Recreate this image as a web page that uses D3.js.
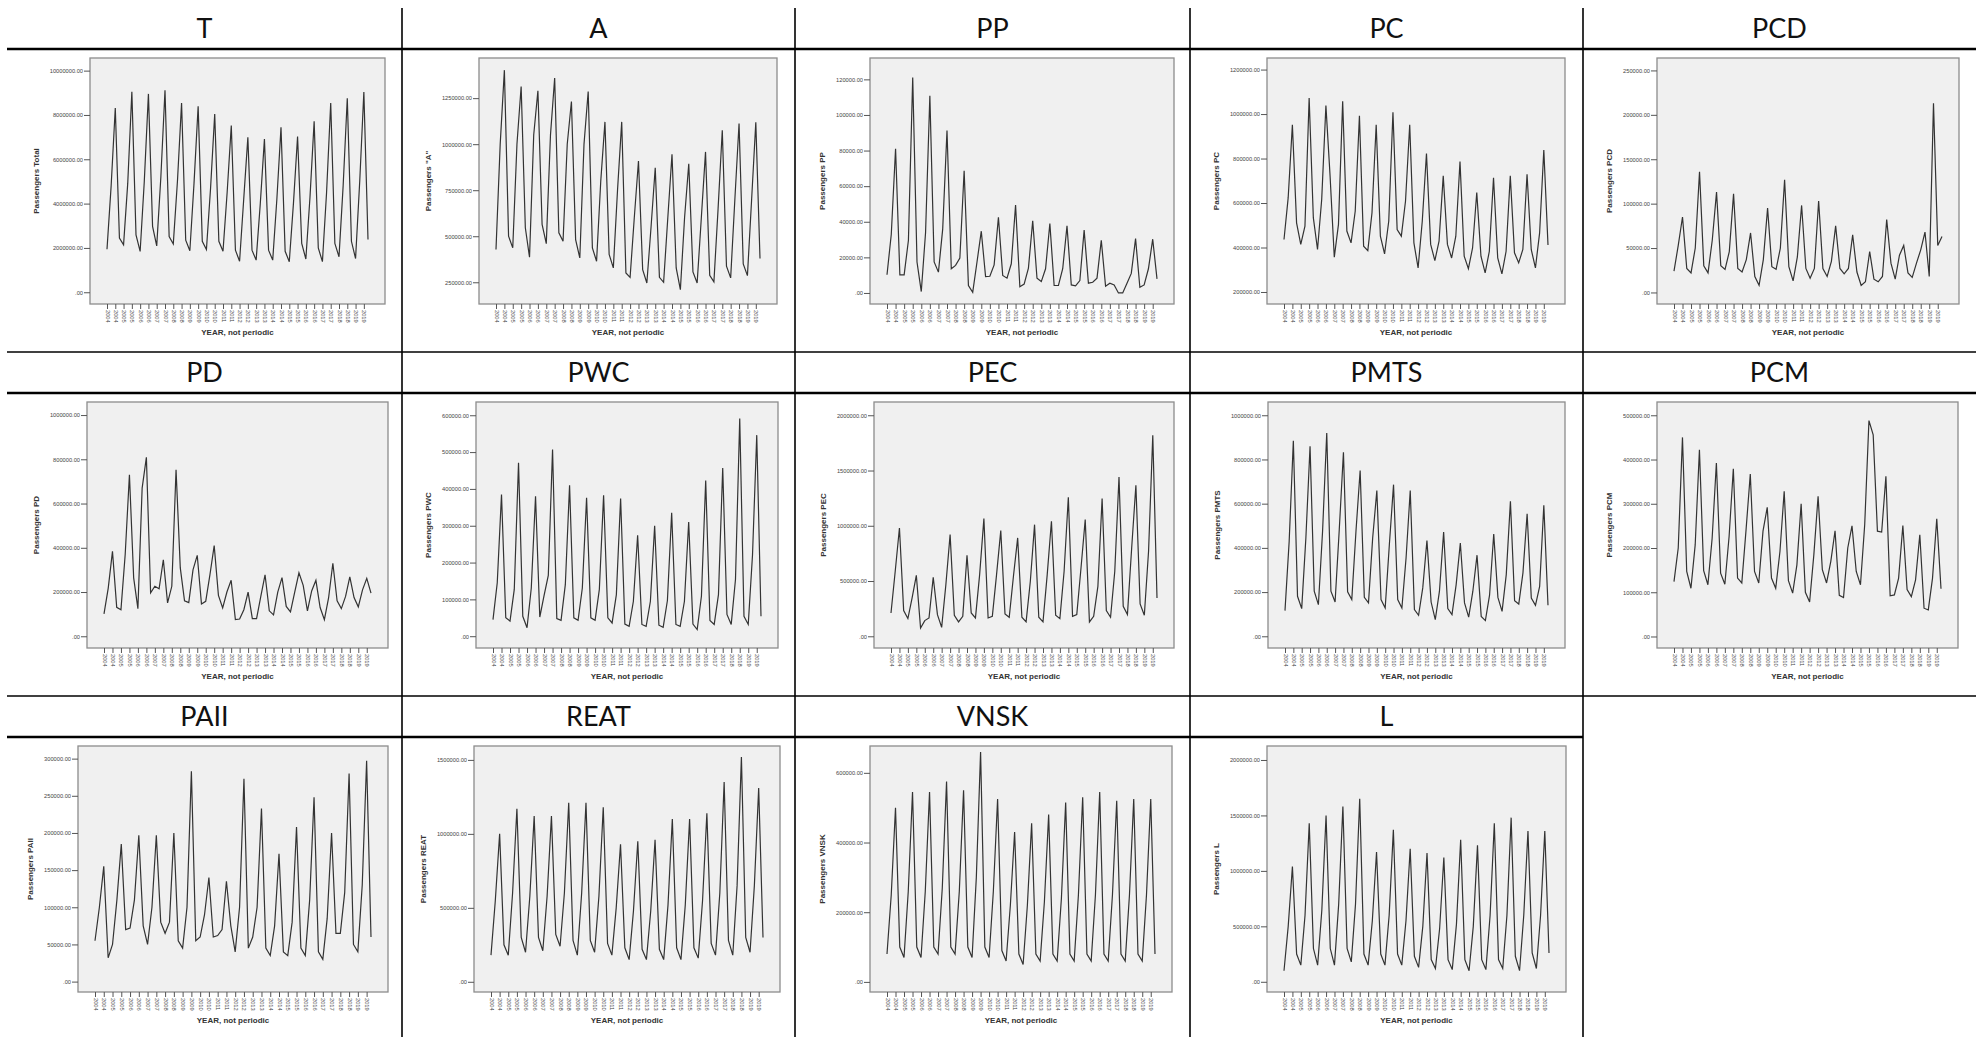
<!DOCTYPE html>
<html>
<head>
<meta charset="utf-8">
<script src="https://cdn.jsdelivr.net/npm/d3@7"></script>
<style>
  body { margin: 0; background: #fff; }
</style>
</head>
<body>
<script>
// quarterly passengers, 2004 Q1 .. 2019 Q4, values in thousands
var yearLabels = ["2004","2004","2005","2005","2006","2006","2007","2007","2008","2008","2009","2009",
  "2010","2010","2011","2011","2012","2012","2013","2013","2014","2014","2015","2015",
  "2016","2016","2017","2017","2018","2018","2019","2019"];

var T = [1940,4800,8310,2440, 2140,4900,9050,2590, 1840,5000,8950,2970, 2090,5200,9110,2510,
  2180,5000,8540,2350, 1870,4900,8390,2300, 1930,4700,8040,2300, 1850,4500,7520,1900,
  1400,4200,6990,1900, 1450,4000,6910,1900, 1450,4200,7440,1850, 1380,4000,7030,2200,
  1500,4300,7710,2000, 1380,4500,8540,2200, 1600,4800,8750,2300, 1520,5000,9040,2380];
var A = [428,1000,1402,500, 437,1000,1313,546, 386,1050,1290,564, 460,1050,1359,519,
  473,1000,1232,482, 382,1000,1286,437, 364,800,1121,401, 328,750,1121,301,
  277,600,909,319, 246,550,872,277, 250,600,945,328, 210,600,894,306,
  246,600,958,288, 252,650,1076,337, 274,700,1112,350, 286,700,1119,379];
var PP = [10.2,33,81,10.2, 10.2,29.6,121,17.4, 0.8,34,110.8,17.4, 11.7,36,91.3,13.6,
  15.5,19.6,68.7,4.2, 0.4,17.4,34.7,9.2, 9.4,15.8,42.5,9.8, 8.3,16.4,49.4,3.5,
  5,14,40.5,8.3, 6.4,13.6,39,4.2, 4.2,13.6,37.7,4.5, 4,7,35.3,5.5,
  6,8.3,29.6,3.8, 5.5,4.5,0,0, 5.5,11,30.5,3.2, 4.5,13.6,30.2,7.9];
var PC = [436,624,952,511, 414,496,1072,534, 391,617,1038,720, 356,504,1057,474,
  421,564,992,406, 386,556,952,451, 371,519,1008,481, 451,609,952,421,
  308,519,823,414, 341,429,722,414, 353,451,786,361, 305,398,647,361,
  286,383,714,353, 281,383,722,376, 331,391,729,391, 308,466,838,411];
var PCD = [24,53,85,27, 22,50,136,30, 22,59,113,30, 26,46,111,27,
  23,37,67,18, 8,37,95,29, 26,50,127,29, 13,40,98,27,
  16,27,103,27, 18,35,75,27, 21,27,65,23, 8,12,46,15,
  12,18,82,33, 15,42,53,22, 17,33,48,68, 18,213,53,63];
var PD = [101,218,384,131, 120,370,730,264, 125,670,809,196, 226,215,346,151,
  226,753,309,160, 152,300,366,146, 158,279,410,185, 128,200,253,75,
  78,120,200,80, 80,180,278,115, 97,200,265,135, 110,200,287,230,
  115,205,253,130, 75,175,330,160, 125,180,268,175, 133,210,262,195];
var PWC = [45,145,385,50, 41,127,471,54, 23,131,380,52, 110,165,507,48,
  43,140,410,50, 43,131,376,50, 43,127,383,50, 36,113,374,33,
  27,95,274,32, 27,95,300,30, 24,97,335,32, 27,95,310,33,
  18,109,423,43, 32,113,457,59, 32,154,591,54, 32,220,546,54];
var PEC = [211,588,980,232, 160,347,552,75, 142,166,534,196, 81,468,920,190,
  130,181,733,211, 166,560,1065,166, 181,558,956,202, 172,543,890,172,
  130,498,1010,172, 130,558,1041,190, 160,588,1258,181, 196,618,1056,130,
  181,452,1246,232, 172,588,1442,271, 196,799,1367,293, 190,769,1819,347];
var PMTS = [116,430,885,181, 125,445,860,204, 143,475,920,204, 155,483,833,201,
  166,475,750,176, 151,445,659,166, 128,415,686,166, 128,354,659,121,
  95,219,433,155, 75,204,472,125, 98,234,422,151, 87,204,367,90,
  71,186,463,176, 113,279,611,161, 146,287,554,173, 140,226,593,140];
var PCM = [124,200,450,147, 109,207,422,149, 117,222,392,143, 118,226,379,132,
  121,241,367,147, 121,238,292,132, 109,192,328,126, 98,162,300,100,
  78,185,317,151, 121,170,239,93, 88,200,250,147, 117,253,488,456,
  238,236,362,92, 94,132,251,106, 90,128,230,64, 60,132,266,108];
var PAII = [55,100,155,32, 50,110,185,70, 72,110,197,75, 50,100,197,80,
  65,80,200,55, 45,100,283,55, 60,90,140,60, 62,70,135,75,
  40,100,273,45, 60,100,233,45, 35,75,172,40, 35,80,208,45,
  35,110,248,40, 30,85,200,65, 65,120,280,50, 40,130,297,60];
var REAT = [180,550,1000,250, 180,600,1170,300, 200,580,1120,300, 210,580,1120,320,
  240,600,1210,280, 180,600,1210,280, 200,580,1180,260, 180,500,930,230,
  150,480,950,220, 150,480,960,220, 150,520,1100,230, 150,520,1100,230,
  160,550,1140,260, 180,600,1350,280, 180,650,1520,300, 200,650,1310,300];
var VNSK = [80,250,500,100, 70,260,545,100, 70,260,545,100, 80,270,575,100,
  80,260,550,100, 70,300,660,100, 70,260,525,90, 60,220,430,80,
  50,220,455,80, 60,230,480,80, 60,240,515,80, 60,250,530,80,
  60,250,545,80, 60,250,520,80, 60,250,525,80, 60,250,525,80];
var L = [100,500,1040,250, 150,600,1430,300, 150,650,1500,300, 150,700,1580,300,
  180,700,1650,250, 150,550,1170,250, 150,600,1370,250, 150,550,1200,230,
  130,500,1160,200, 120,480,1120,200, 110,520,1280,200, 100,500,1230,200,
  110,600,1430,200, 120,600,1480,230, 100,600,1360,260, 120,600,1360,260];

var panelNames = ["T","A","PP","PC","PCD","PD","PWC","PEC","PMTS","PCM","PAII","REAT","VNSK","L"];
var panelSeries = [T, A, PP, PC, PCD, PD, PWC, PEC, PMTS, PCM, PAII, REAT, VNSK, L];
var yTitles = ["Passengers Total", "Passengers \"A\"", "Passengers PP", "Passengers PC", "Passengers PCD",
  "Passengers PD", "Passengers PWC", "Passengers PEC", "Passengers PMTS", "Passengers PCM",
  "Passengers PAII", "Passengers REAT", "Passengers VNSK", "Passengers L"];
// axis extent (thousands) and tick values
var yDomains = [[-530,10570],[132,1468],[-6.2,132],[146,1252],[-13,264],
  [-53,1059],[-32,636],[-106,2120],[-53,1060],[-26,530],
  [-14,317],[-69,1594],[-29,677],[-92,2126]];
var yTicks = [[0,2000,4000,6000,8000,10000],[250,500,750,1000,1250],[0,20,40,60,80,100,120],
  [200,400,600,800,1000,1200],[0,50,100,150,200,250],
  [0,200,400,600,800,1000],[0,100,200,300,400,500,600],[0,500,1000,1500,2000],
  [0,200,400,600,800,1000],[0,100,200,300,400,500],
  [0,50,100,150,200,250,300],[0,500,1000,1500],[0,200,400,600],[0,500,1000,1500,2000]];

// page layout
var colEdges = [7, 402, 795, 1190, 1583, 1976];
var rowTops = [8, 352, 696];
var plotLefts = [90, 479, 870, 1267, 1657, 87, 476, 874, 1268, 1657, 78, 474, 870, 1267];
var plotRights = [385, 777, 1174, 1565, 1959, 388, 778, 1174, 1565, 1958, 388, 780, 1172, 1566];

var svg = d3.select("body")
  .append("svg")
    .attr("width", 1983)
    .attr("height", 1037);

// table lines
var grid = svg.append("g").attr("stroke", "#000");
colEdges.slice(1, 5).forEach(function(x) {
  grid.append("line").attr("x1", x).attr("x2", x).attr("y1", 8).attr("y2", 1037).attr("stroke-width", 1.6);
});
[49, 393].forEach(function(y) {
  grid.append("line").attr("x1", 7).attr("x2", 1976).attr("y1", y).attr("y2", y).attr("stroke-width", 2.4);
});
grid.append("line").attr("x1", 7).attr("x2", 1583).attr("y1", 737).attr("y2", 737).attr("stroke-width", 2.4);
[352, 696].forEach(function(y) {
  grid.append("line").attr("x1", 7).attr("x2", 1976).attr("y1", y).attr("y2", y).attr("stroke-width", 1.6);
});

function tickText(v) {
  return v === 0 ? ".00" : (v * 1000).toFixed(2);
}

panelSeries.forEach(function(data, p) {
  var row = Math.floor(p / 5), col = p % 5;
  var cellTop = rowTops[row];
  var cx = (colEdges[col] + colEdges[col + 1]) / 2;

  svg.append("text")
    .attr("x", cx)
    .attr("y", cellTop + 30)
    .attr("text-anchor", "middle")
    .attr("font-family", "Lato, 'Open Sans', sans-serif")
    .attr("font-size", 27)
    .attr("fill", "#111")
    .text(panelNames[p]);

  var left = plotLefts[p], right = plotRights[p];
  var top = cellTop + 50, bottom = cellTop + 296;

  var x = d3.scaleLinear().domain([0, data.length - 1]).range([left + 17, right - 17]);
  var y = d3.scaleLinear().domain(yDomains[p]).range([bottom, top]);

  var g = svg.append("g");

  g.append("rect")
    .attr("x", left).attr("y", top)
    .attr("width", right - left).attr("height", bottom - top)
    .attr("fill", "#f0f0f0")
    .attr("stroke", "#8c8c8c")
    .attr("stroke-width", 1.3);

  var yAxis = g.append("g")
    .attr("transform", "translate(" + left + ",0)")
    .call(d3.axisLeft(y).tickValues(yTicks[p]).tickSize(6).tickPadding(1).tickFormat(tickText));
  yAxis.select(".domain").remove();
  yAxis.selectAll("line").attr("stroke", "#555");
  yAxis.selectAll("text")
    .attr("font-family", "'Liberation Sans', Arial, sans-serif")
    .attr("font-size", 5.7)
    .attr("fill", "#444");

  var xAxis = g.append("g")
    .attr("transform", "translate(0," + bottom + ")")
    .call(d3.axisBottom(x).tickValues(d3.range(0, data.length, 2)).tickSize(5)
      .tickFormat(function(d, i) { return yearLabels[i]; }));
  xAxis.select(".domain").remove();
  xAxis.selectAll("line").attr("stroke", "#555");
  xAxis.selectAll("text")
    .attr("font-family", "'Liberation Sans', Arial, sans-serif")
    .attr("font-size", 5.7)
    .attr("fill", "#444")
    .attr("transform", "rotate(90)")
    .attr("text-anchor", "start")
    .attr("x", 6).attr("y", 0).attr("dy", "0.35em");

  var labelW = 0;
  yAxis.selectAll("text").each(function() { labelW = Math.max(labelW, this.getBBox().width); });

  g.append("text")
    .attr("transform", "translate(" + (left - labelW - 18) + "," + ((top + bottom) / 2) + ") rotate(-90)")
    .attr("text-anchor", "middle")
    .attr("font-family", "'Liberation Sans', Arial, sans-serif")
    .attr("font-weight", "bold")
    .attr("font-size", 8)
    .attr("fill", "#333")
    .text(yTitles[p]);

  g.append("text")
    .attr("x", (left + right) / 2)
    .attr("y", bottom + 31)
    .attr("text-anchor", "middle")
    .attr("font-family", "'Liberation Sans', Arial, sans-serif")
    .attr("font-weight", "bold")
    .attr("font-size", 8)
    .attr("fill", "#333")
    .text("YEAR, not periodic");

  g.append("path")
    .datum(data)
    .attr("fill", "none")
    .attr("stroke", "#333")
    .attr("stroke-width", 1.2)
    .attr("d", d3.line().x(function(d, i) { return x(i); }).y(function(d) { return y(d); }));
});
</script>
</body>
</html>
